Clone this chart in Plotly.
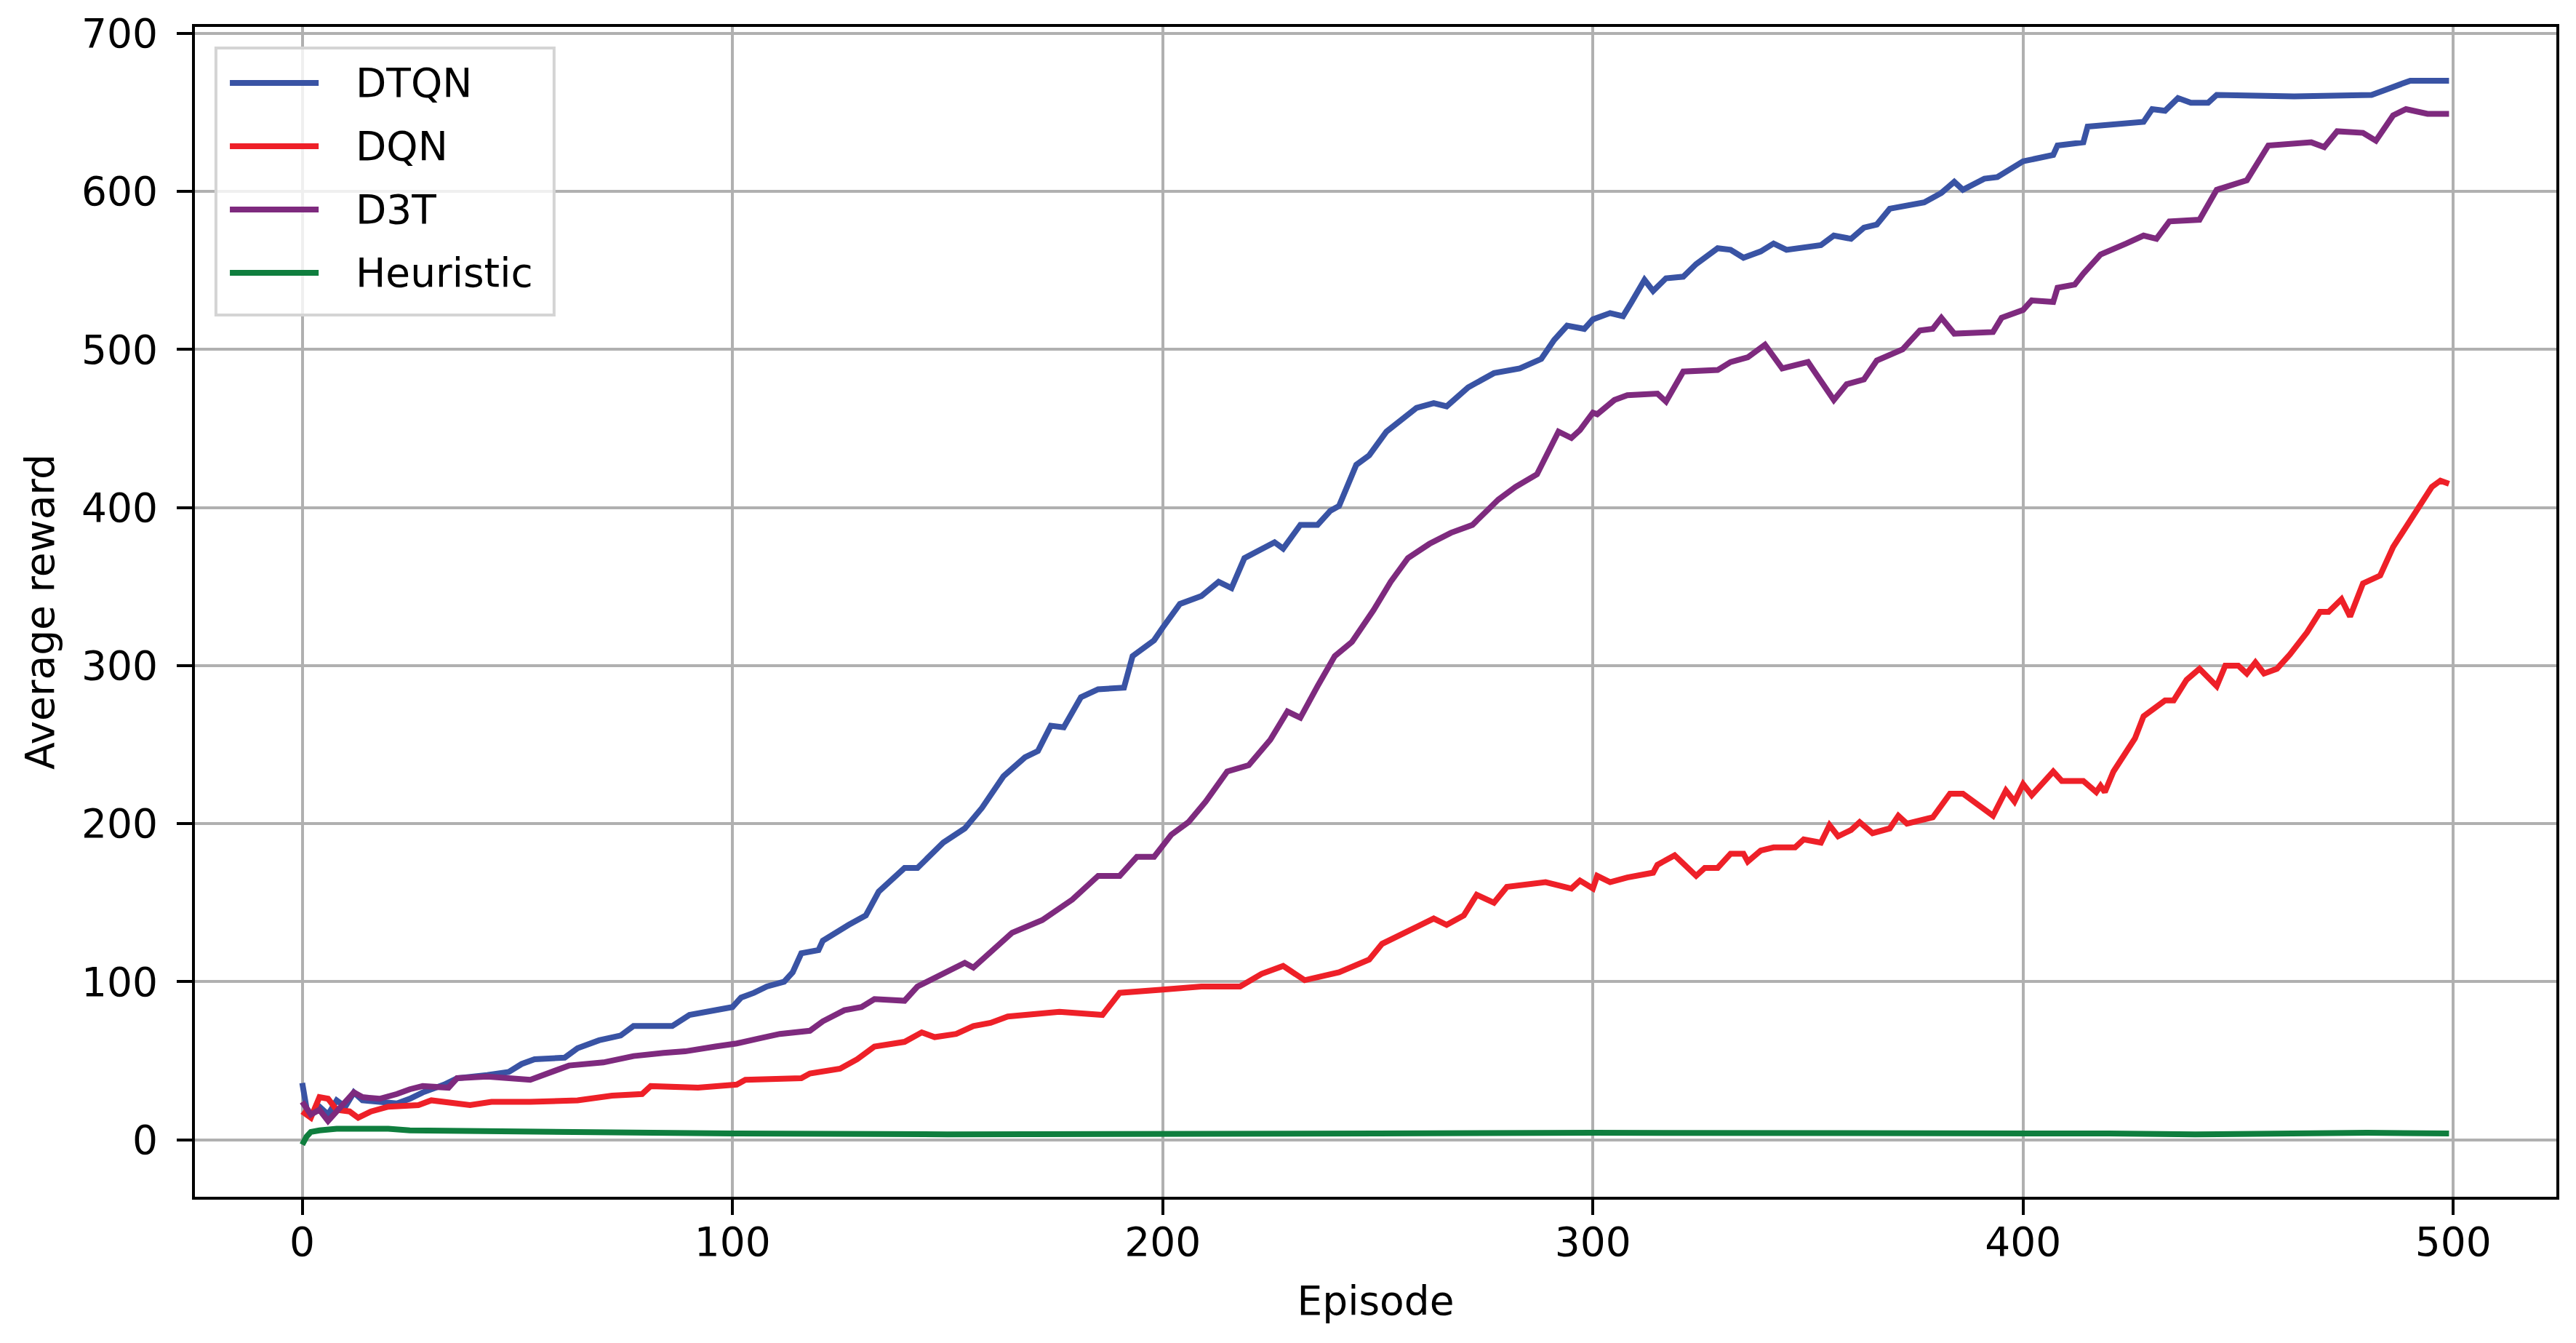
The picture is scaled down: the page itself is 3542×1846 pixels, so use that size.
import plotly.graph_objects as go

# values (episode, average reward)
dtqn_ep = [0, 1, 2, 4, 6, 8, 10, 12, 14, 18, 22, 25, 28, 33, 36, 43, 48, 51, 54, 61, 64, 69, 74, 77, 86, 90,
           96, 100, 102, 105, 108, 112, 114, 116, 120, 121, 127, 131, 134, 137, 140, 143, 149, 154, 158, 163,
           168, 171, 174, 177, 181, 185, 191, 193, 198, 200, 204, 209, 213, 216, 219, 226, 228, 232, 236, 239,
           241, 245, 248, 252, 259, 263, 266, 271, 277, 283, 288, 291, 294, 298, 300, 304, 307, 309, 312, 314,
           317, 321, 324, 329, 332, 335, 339, 342, 345, 353, 356, 360, 363, 366, 369, 377, 381, 384, 386, 391,
           394, 400, 407, 408, 414, 415, 428, 430, 433, 436, 439, 443, 445, 463, 481, 484, 490, 499]
dtqn_val = [36, 20, 16, 21, 16, 25, 21, 30, 25, 24, 23, 26, 30, 35, 39, 41, 43, 48, 51, 52, 58, 63, 66, 72, 72, 79,
            82, 84, 90, 93, 97, 100, 106, 118, 120, 126, 136, 142, 157, 164, 172, 172, 188, 197, 210, 230,
            242, 246, 262, 261, 280, 285, 286, 306, 316, 324, 339, 344, 353, 349, 368, 378, 374, 389, 389, 398,
            401, 427, 433, 448, 463, 466, 464, 476, 485, 488, 494, 506, 515, 513, 519, 523, 521, 530, 544, 537,
            545, 546, 554, 564, 563, 558, 562, 567, 563, 566, 572, 570, 577, 579, 589, 593, 599, 606, 601, 608,
            609, 619, 623, 629, 631, 641, 644, 652, 651, 659, 656, 656, 661, 660, 661, 664, 670, 670]

dqn_ep = [0, 2, 4, 6, 8, 11, 13, 16, 20, 27, 30, 35, 39, 44, 53, 64, 72, 79, 81, 92, 101, 103, 116, 118, 125,
          129, 133, 140, 144, 147, 152, 156, 160, 164, 176, 186, 190, 200, 209, 218, 223, 228, 233, 241, 248,
          251, 256, 263, 266, 270, 273, 277, 280, 289, 295, 297, 300, 301, 304, 308, 314, 315, 319, 324, 326,
          329, 332, 335, 336, 339, 342, 347, 349, 353, 355, 357, 360, 362, 365, 369, 371, 373, 379, 383, 386,
          393, 396, 398, 400, 402, 407, 409, 414, 417, 418, 419, 421, 426, 428, 433, 435, 438, 441, 445, 447,
          450, 452, 454, 456, 459, 462, 466, 469, 471, 474, 476, 479, 483, 486, 490, 493, 495, 497, 499]
dqn_val = [18, 14, 27, 26, 19, 18, 14, 18, 21, 22, 25, 23, 22, 24, 24, 25, 28, 29, 34, 33, 35, 38, 39, 42, 45,
           51, 59, 62, 68, 65, 67, 72, 74, 78, 81, 79, 93, 95, 97, 97, 105, 110, 101, 106, 114,
           124, 131, 140, 136, 142, 155, 150, 160, 163, 159, 164, 159, 167, 163, 166, 169, 174, 180, 167, 172,
           172, 181, 181, 176, 183, 185, 185, 190, 188, 199, 192, 196, 201, 194, 197, 205, 200, 204, 219, 219,
           205, 221, 214, 225, 218, 233, 227, 227, 220, 224, 220, 233, 254, 268, 278, 278, 291, 298, 287, 300,
           300, 295, 302, 295, 298, 307, 321, 334, 334, 342, 331, 352, 357, 375, 392, 405, 413, 417, 415]

d3t_ep = [0, 2, 4, 6, 9, 12, 14, 18, 22, 25, 28, 34, 36, 43, 53, 57, 62, 70, 77, 84, 89, 96, 101, 106, 111, 118,
          121, 126, 130, 133, 140, 143, 149, 154, 156, 162, 165, 172, 179, 185, 190, 194, 198, 202, 206, 210,
          215, 220, 225, 229, 232, 236, 240, 244, 249, 253, 257, 262, 267, 272, 278, 282, 287, 292, 295, 297,
          300, 301, 305, 308, 315, 317, 321, 329, 332, 336, 340, 344, 350, 356, 359, 363, 366, 372, 376, 379,
          381, 384, 393, 395, 400, 402, 407, 408, 412, 414, 418, 424, 428, 431, 434, 441, 445, 452, 457, 467,
          470, 473, 479, 482, 486, 489, 494, 499]
d3t_val = [24, 16, 19, 12, 21, 30, 27, 26, 29, 32, 34, 33, 39, 40, 38, 42, 47, 49, 53, 55, 56, 59, 61, 64, 67, 69,
           75, 82, 84, 89, 88, 97, 105, 112, 109, 124, 131, 139, 152, 167, 167, 179, 179, 193, 201, 214,
           233, 237, 253, 271, 267, 287, 306, 315, 335, 353, 368, 377, 384, 389, 405, 413, 421, 448, 444, 449,
           460, 459, 468, 471, 472, 467, 486, 487, 492, 495, 503, 488, 492, 468, 478, 481, 493, 500, 512, 513,
           520, 510, 511, 520, 525, 531, 530, 539, 541, 548, 560, 567, 572, 570, 581, 582, 601, 607, 629, 631,
           628, 638, 637, 632, 648, 652, 649, 649]

heur_ep = [0, 1, 2, 4, 8, 20, 25, 40, 60, 100, 150, 200, 250, 300, 350, 400, 420, 440, 460, 480, 499]
heur_val = [-3, 2, 5, 6, 7, 7, 6, 5.5, 5, 4, 3.5, 3.5, 4, 4.5, 4.5, 4.5, 4, 3.5, 4, 4.5, 4]

names = ["DTQN", "DQN", "D3T", "Heuristic"]
colors = ["#3953a4", "#ee2028", "#7e2a7e", "#0f7e3e"]
series = [(dtqn_ep, dtqn_val), (dqn_ep, dqn_val), (d3t_ep, d3t_val), (heur_ep, heur_val)]

x_ticks = [0, 100, 200, 300, 400, 500]
y_ticks = [0, 100, 200, 300, 400, 500, 600, 700]

FONT = "DejaVu Sans"
FS = 55

fig = go.Figure()
for name, color, (xs, ys) in zip(names, colors, series):
    fig.add_trace(go.Scatter(x=xs, y=ys, mode="lines", name=name,
                             line=dict(color=color, width=8), showlegend=False))

# matplotlib style legend box (upper left)
fig.add_shape(type="rect", xref="x domain", yref="y domain",
              x0=0.0089, x1=0.1521, y0=0.7537, y1=0.982,
              line=dict(color="#d4d4d4", width=4), fillcolor="rgba(255,255,255,0.8)")
for i, (name, color) in enumerate(zip(names, colors)):
    yy = 0.9521 - i * 0.0541
    fig.add_shape(type="line", xref="x domain", yref="y domain",
                  x0=0.0148, x1=0.0524, y0=yy, y1=yy, line=dict(color=color, width=8))
    fig.add_annotation(text=name, xref="x domain", yref="y domain", x=0.0674, y=yy,
                       xanchor="left", yanchor="middle", showarrow=False,
                       font=dict(family=FONT, size=FS, color="black"))

axis_common = dict(showline=True, linecolor="black", linewidth=4, mirror=True,
                   ticks="outside", ticklen=21, tickwidth=4, tickcolor="black",
                   showgrid=True, gridcolor="#b0b0b0", gridwidth=4, zeroline=False,
                   tickfont=dict(family=FONT, size=FS, color="black"))

fig.update_xaxes(range=[-24.95, 523.95], tickvals=x_ticks, ticklabelstandoff=-10,
                 title=dict(text="Episode", standoff=31, font=dict(family=FONT, size=FS, color="black")),
                 **axis_common)
fig.update_yaxes(range=[-36, 704], tickvals=y_ticks, ticklabelstandoff=15,
                 title=dict(text="Average reward", standoff=21, font=dict(family=FONT, size=FS, color="black")),
                 **axis_common)

fig.update_layout(width=3542, height=1846, plot_bgcolor="white", paper_bgcolor="white",
                  margin=dict(l=268, r=27, t=37, b=201, autoexpand=False),
                  font=dict(family=FONT, size=FS, color="black"))

fig.write_html("out.html", config={"displayModeBar": False},
               post_script="document.body.style.margin='0';document.body.style.overflow='hidden';")
